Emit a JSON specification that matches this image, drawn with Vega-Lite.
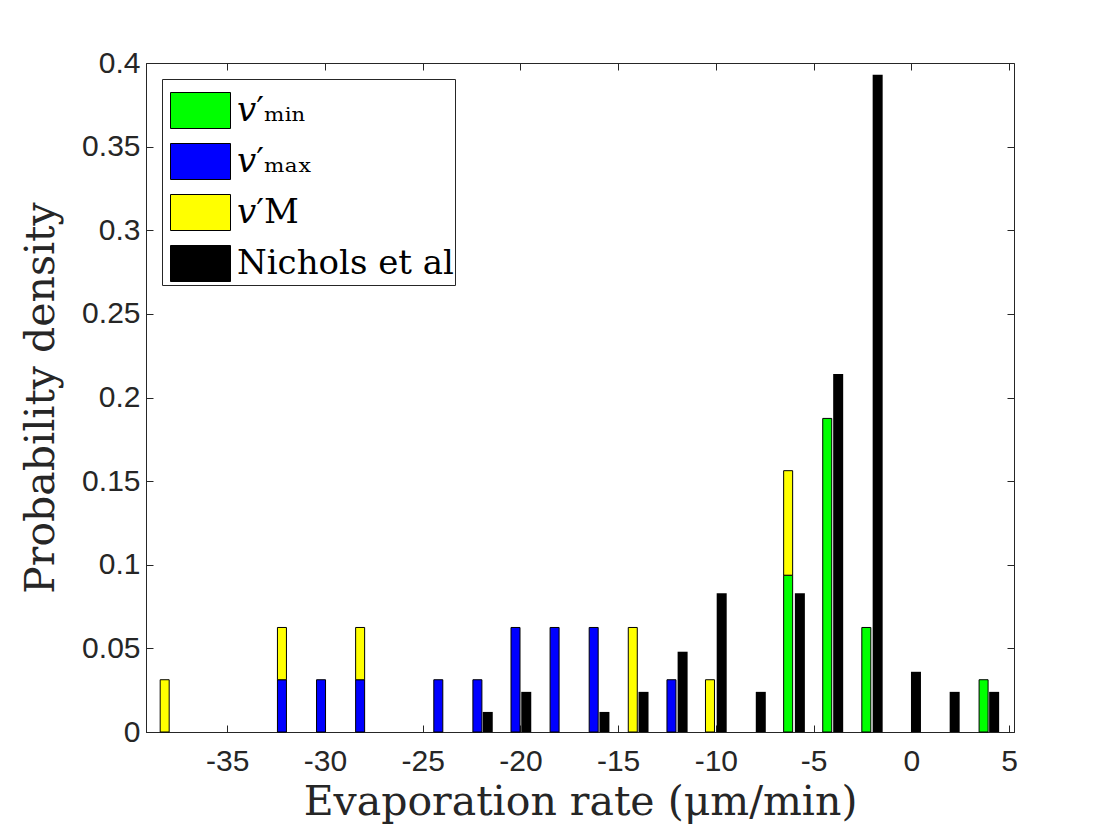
{
  "$schema": "https://vega.github.io/schema/vega-lite/v6.json",
  "width": 868,
  "height": 669,
  "autosize": {"type": "none"},
  "padding": {"left": 146, "top": 63, "right": 106, "bottom": 108},
  "background": "white",
  "view": {"stroke": "#262626", "strokeWidth": 1},
  "config": {
    "axis": {
      "grid": false,
      "domainColor": "#262626",
      "tickColor": "#262626",
      "labelColor": "#262626",
      "labelFont": "Liberation Sans",
      "labelFontSize": 30,
      "tickSize": -7,
      "titleFont": "DejaVu Serif",
      "titleFontSize": 41,
      "titleFontWeight": "normal",
      "titleColor": "#262626"
    }
  },
  "data": {
    "values": [
      {"x": -38.2, "series": "v'M", "density": 0.03125},
      {"x": -32.2, "series": "v'max", "density": 0.03125},
      {"x": -32.2, "series": "v'M", "density": 0.03125},
      {"x": -30.2, "series": "v'max", "density": 0.03125},
      {"x": -28.2, "series": "v'max", "density": 0.03125},
      {"x": -28.2, "series": "v'M", "density": 0.03125},
      {"x": -24.2, "series": "v'max", "density": 0.03125},
      {"x": -22.2, "series": "v'max", "density": 0.03125},
      {"x": -20.25, "series": "v'max", "density": 0.0625},
      {"x": -18.25, "series": "v'max", "density": 0.0625},
      {"x": -16.25, "series": "v'max", "density": 0.0625},
      {"x": -14.25, "series": "v'M", "density": 0.0625},
      {"x": -12.27, "series": "v'max", "density": 0.03125},
      {"x": -10.3, "series": "v'M", "density": 0.03125},
      {"x": -6.3, "series": "v'min", "density": 0.09375},
      {"x": -6.3, "series": "v'M", "density": 0.0625},
      {"x": -4.3, "series": "v'min", "density": 0.1875},
      {"x": -2.3, "series": "v'min", "density": 0.0625},
      {"x": 3.7, "series": "v'min", "density": 0.03125},
      {"x": -21.67, "series": "Nichols et al", "density": 0.012},
      {"x": -19.7, "series": "Nichols et al", "density": 0.024},
      {"x": -15.7, "series": "Nichols et al", "density": 0.012},
      {"x": -13.7, "series": "Nichols et al", "density": 0.024},
      {"x": -11.7, "series": "Nichols et al", "density": 0.048},
      {"x": -9.7, "series": "Nichols et al", "density": 0.083},
      {"x": -7.7, "series": "Nichols et al", "density": 0.024},
      {"x": -5.7, "series": "Nichols et al", "density": 0.083},
      {"x": -3.74, "series": "Nichols et al", "density": 0.214},
      {"x": -1.72, "series": "Nichols et al", "density": 0.393},
      {"x": 0.24, "series": "Nichols et al", "density": 0.036},
      {"x": 2.22, "series": "Nichols et al", "density": 0.024},
      {"x": 4.24, "series": "Nichols et al", "density": 0.024}
    ]
  },
  "encoding": {
    "color": {
      "field": "series",
      "type": "nominal",
      "scale": {
        "domain": ["v'min", "v'max", "v'M", "Nichols et al"],
        "range": ["#00ff00", "#0000ff", "#ffff00", "#000000"]
      },
      "legend": {
        "title": null,
        "orient": "top-left",
        "offset": 16,
        "padding": 1,
        "strokeColor": "#262626",
        "fillColor": "white",
        "symbolType": "M-1,-0.6H1V0.6H-1Z",
        "symbolSize": 3600,
        "symbolOffset": 7,
        "symbolStrokeColor": "black",
        "symbolStrokeWidth": 1,
        "symbolOpacity": 1,
        "labelFont": "DejaVu Serif",
        "labelFontSize": 34,
        "labelColor": "black",
        "labelOffset": 6,
        "labelLimit": 400,
        "rowPadding": -3,
        "labelExpr": "datum.value == \"v'min\" ? '𝑣′ₘᵢₙ' : datum.value == \"v'max\" ? '𝑣′ₘₐₓ' : datum.value == \"v'M\" ? '𝑣′M' : datum.value"
      }
    }
  },
  "layer": [
    {
      "transform": [{"filter": "datum.series != 'Nichols et al'"}],
      "mark": {"type": "bar", "size": 9, "stroke": "black", "strokeWidth": 1},
      "encoding": {
        "x": {
          "field": "x",
          "type": "quantitative",
          "scale": {"domain": [-38.9, 5], "nice": false, "zero": false},
          "axis": {
            "values": [-35, -30, -25, -20, -15, -10, -5, 0, 5],
            "labelExpr": "'' + datum.value",
            "labelPadding": 21,
            "title": "Evaporation rate (μm/min)",
            "titlePadding": 6
          }
        },
        "y": {
          "field": "density",
          "type": "quantitative",
          "stack": "zero",
          "scale": {"domain": [0, 0.4], "nice": false},
          "axis": {
            "values": [0, 0.05, 0.1, 0.15, 0.2, 0.25, 0.3, 0.35, 0.4],
            "labelExpr": "'' + datum.value",
            "labelPadding": 13,
            "title": "Probability density",
            "titlePadding": 19
          }
        },
        "order": {"field": "series", "sort": "descending"}
      }
    },
    {
      "transform": [{"filter": "datum.series == 'Nichols et al'"}],
      "mark": {"type": "bar", "size": 10},
      "encoding": {
        "x": {
          "field": "x",
          "type": "quantitative",
          "axis": {
            "orient": "top",
            "values": [-35, -30, -25, -20, -15, -10, -5, 0, 5],
            "labels": false,
            "domain": false,
            "title": null
          }
        },
        "y": {
          "field": "density",
          "type": "quantitative",
          "axis": {
            "orient": "right",
            "values": [0, 0.05, 0.1, 0.15, 0.2, 0.25, 0.3, 0.35, 0.4],
            "labels": false,
            "domain": false,
            "title": null
          }
        }
      }
    }
  ],
  "resolve": {"axis": {"x": "independent", "y": "independent"}}
}
